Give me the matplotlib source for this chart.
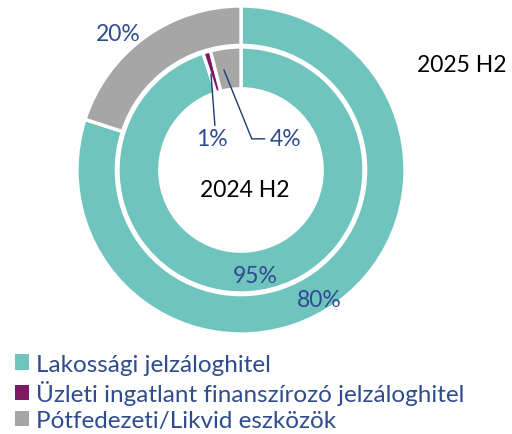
import numpy as np
import matplotlib.pyplot as plt
from matplotlib.patches import Patch

plt.rcParams['font.family'] = ['Lato', 'DejaVu Sans']

categories = ['Lakossági jelzáloghitel',
              'Üzleti ingatlant finanszírozó jelzáloghitel',
              'Pótfedezeti/Likvid eszközök']
colors = ['#70C4BE', '#7D1A62', '#A6A6A6']
outer_vals = [80, 0, 20]   # 2025 H2
inner_vals = [95, 1, 4]    # 2024 H2
outer_label = '2025 H2'
inner_label = '2024 H2'
label_color = '#2E4C8E'

W, H = 512, 435
fig = plt.figure(figsize=(W / 100, H / 100), dpi=100)
cx, cy, R = 241, 171, 164
ax = fig.add_axes([(cx - R) / W, (H - cy - R) / H, 2 * R / W, 2 * R / H])

wedge_kw = dict(edgecolor='white', linewidth=2.4)
ax.pie(outer_vals, colors=colors, radius=1.0, startangle=90, counterclock=False,
       wedgeprops=dict(width=0.24, **wedge_kw))
ax.pie(inner_vals, colors=colors, radius=0.75, startangle=90, counterclock=False,
       wedgeprops=dict(width=0.255, **wedge_kw))
ax.set_xlim(-1, 1)
ax.set_ylim(-1, 1)
ax.axis('off')

fs = 16.5
# outer ring labels
ax.text(0.48, -0.79, f'{outer_vals[0]}%', color=label_color, fontsize=fs, ha='center', va='center')
ax.text(-0.75, 0.83, f'{outer_vals[2]}%', color=label_color, fontsize=fs, ha='center', va='center')
# inner ring labels
ax.text(0.085, -0.646, f'{inner_vals[0]}%', color=label_color, fontsize=fs, ha='center', va='center')
ax.annotate(f'{inner_vals[1]}%', xy=(-0.183, 0.585), xytext=(-0.177, 0.19),
            color=label_color, fontsize=fs, ha='center', va='center',
            arrowprops=dict(arrowstyle='-', color='#1F3B73', lw=1,
                            shrinkA=0, shrinkB=0, relpos=(0.6, 1.0)))
ax.annotate(f'{inner_vals[2]}%', xy=(-0.104, 0.61), xytext=(0.27, 0.19),
            color=label_color, fontsize=fs, ha='center', va='center',
            arrowprops=dict(arrowstyle='-', color='#1F3B73', lw=1,
                            connectionstyle='angle,angleA=0,angleB=-68,rad=0',
                            shrinkA=0, shrinkB=0, relpos=(-0.15, 0.5)))

ax.text(0.02, -0.12, inner_label, fontsize=fs, ha='center', va='center', color='black')
fig.text(462 / W, 1 - 65 / H, outer_label, fontsize=fs, ha='center', va='center', color='black')

handles = [Patch(facecolor=c, edgecolor='none') for c in colors]
leg = fig.legend(handles, categories, loc='upper left', bbox_to_anchor=(0.0, 1 - 340 / H),
                 frameon=False, fontsize=17.5, handlelength=0.6, handleheight=0.6,
                 handletextpad=0.3, labelspacing=0.22, borderaxespad=0.2)
for t in leg.get_texts():
    t.set_color(label_color)

fig.savefig('out.png', dpi=100)
